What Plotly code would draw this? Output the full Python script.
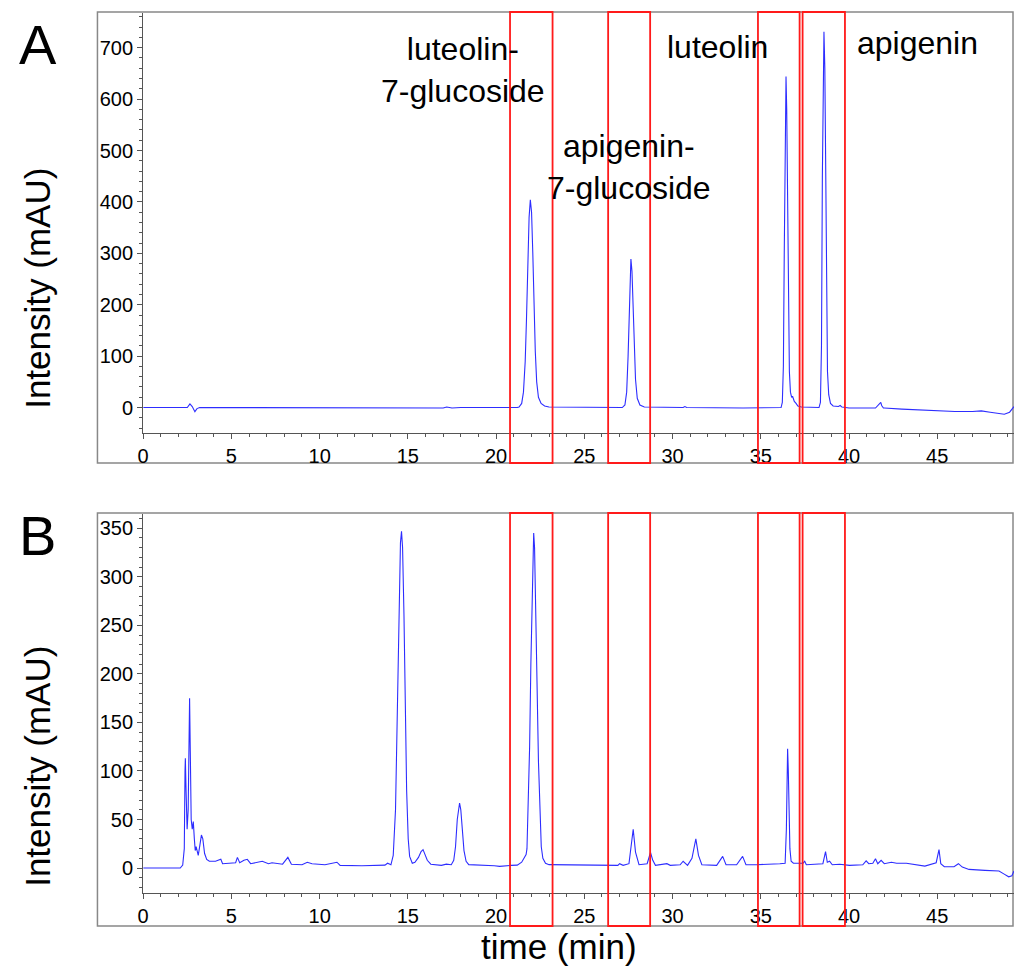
import plotly.graph_objects as go

# ---------------- data ----------------
time_a = [0, 2.5, 2.65, 2.78, 2.93, 3.05, 3.2, 8.2, 8.5, 9.5, 9.7, 10.0, 10.5, 11.7, 11.8,
          17.0, 17.2, 17.5, 18.0, 20.9, 21.2, 21.3, 21.45, 21.55, 21.65, 21.72, 21.8, 21.87,
          21.94, 22.01, 22.08, 22.15, 22.22, 22.3, 22.4, 22.55, 22.75, 23.0, 27.15, 27.3, 27.4,
          27.48, 27.55, 27.6, 27.64, 27.7, 27.76, 27.83, 27.9, 28.0, 28.15, 28.4, 30.6, 30.7,
          30.8, 34.0, 36.15, 36.22, 36.28, 36.33, 36.38, 36.43, 36.47, 36.52, 36.57, 36.62,
          36.68, 36.75, 36.8, 36.9, 37.0, 37.1, 37.3, 38.3, 38.38, 38.44, 38.49, 38.54, 38.58,
          38.63, 38.68, 38.73, 38.78, 38.85, 38.95, 39.1, 39.4, 39.5, 39.6, 40.0, 41.5, 41.8,
          41.85, 41.95, 42.0, 43.0, 44.0, 45.0, 46.0, 47.0, 47.5, 48.0, 48.5, 48.8, 49.1, 49.35]
intensity_a = [0, 0, 7, 2, -8, -2, 0, 0, -1, -1, 0, -1, -1, -1, 0,
               -1, 1, -1, 0, -1, 0, 1, 8, 30, 90, 170, 280, 370,
               404, 380, 300, 200, 110, 50, 20, 8, 3, 1, 0, 5, 30,
               100, 210, 275, 289, 265, 200, 120, 55, 18, 5, 1, 0, 2,
               0, -1, 0, 10, 80, 300, 560, 644, 580, 380, 180, 70,
               30, 20, 22, 12, 8, 3, 1, 0, 10, 120, 450, 690, 731,
               660, 430, 200, 70, 25, 8, 3, 2, 4, 1, -1, -1, 10,
               4, -1, -1, -3, -4.5, -6.5, -7.8, -7.8, -6.5, -9, -11.7, -13, -9, 2]

time_b = [0, 2.1, 2.24, 2.33, 2.37, 2.39, 2.43, 2.49, 2.55, 2.6, 2.63, 2.67, 2.72, 2.78, 2.84,
          2.9, 2.95, 3.0, 3.06, 3.12, 3.2, 3.3, 3.38, 3.48, 3.6, 3.75, 4.1, 4.4, 4.5, 5.24,
          5.34, 5.47, 5.71, 5.9, 6.09, 6.75, 7.1, 7.3, 7.9, 8.2, 8.4, 9.0, 9.3, 9.57, 10.3,
          10.98, 11.16, 12.4, 13.7, 13.85, 14.04, 14.17, 14.3, 14.4, 14.5, 14.58, 14.64, 14.7,
          14.78, 14.85, 14.93, 15.02, 15.1, 15.25, 15.4, 15.6, 15.75, 15.86, 15.98, 16.1, 16.3,
          16.9, 17.18, 17.46, 17.6, 17.7, 17.8, 17.88, 17.93, 18.0, 18.08, 18.18, 18.3, 18.45,
          19.9, 20.2, 20.85, 21.2, 21.45, 21.6, 21.7, 21.75, 21.82, 21.9, 21.97, 22.04, 22.1,
          22.13, 22.18, 22.25, 22.32, 22.4, 22.48, 22.56, 22.65, 22.8, 23.0, 26.9, 27.0, 27.2,
          27.53, 27.62, 27.77, 27.9, 28.1, 28.56, 28.75, 28.88, 29.03, 29.68, 29.87, 30.43,
          30.6, 30.85, 31.1, 31.32, 31.47, 31.66, 32.5, 32.84, 33.03, 33.63, 33.97, 34.16,
          34.76, 36.08, 36.38, 36.45, 36.49, 36.52, 36.56, 36.6, 36.65, 36.72, 36.85, 37.4,
          37.49, 37.58, 38.52, 38.67, 38.77, 38.9, 39.05, 39.47, 40.03, 40.78, 40.97, 41.12,
          41.35, 41.5, 41.63, 41.82, 42.0, 42.4, 42.7, 43.25, 43.9, 44.3, 44.94, 45.1, 45.2,
          45.4, 45.95, 46.2, 46.42, 46.8, 47.7, 48.5, 48.77, 49.05, 49.23, 49.35]
intensity_b = [0, 0, 3, 20, 100, 113, 80, 40, 60, 160, 175, 120, 50, 40, 48,
               30, 18, 22, 17, 13, 22, 34, 30, 15, 9, 7, 7, 9, 4.5, 5.5,
               11, 5.5, 8, 9, 4.5, 7, 4.5, 5.5, 4, 11, 4, 3.4, 6, 4.5, 3.4,
               6, 2.8, 2.4, 3, 5, 3.4, 13, 60, 170, 270, 335, 347, 330,
               260, 170, 80, 30, 12, 5, 6, 11, 17, 19, 14, 8, 4,
               2.8, 4, 3.4, 8, 22, 50, 64, 67, 60, 42, 18, 7, 3.5,
               2.4, 1.7, 2.8, 3, 6, 10, 14, 20, 60, 125, 210, 290, 338,
               345, 330, 275, 190, 110, 55, 22, 10, 5, 3.5, 2.8, 4.5, 2.8,
               4.5, 20, 40, 16.5, 3.4, 4.5, 16, 8, 2.8, 4.5, 2.8, 3.4,
               7, 2.8, 10, 30, 13, 3.4, 2.8, 12, 3.4, 3.4, 12, 3.4,
               3.4, 4.5, 5, 40, 110, 123, 100, 60, 20, 7, 5, 5,
               7, 3.4, 4.5, 17, 6, 7, 3.4, 4, 2.8, 3.4, 7.5, 4.5,
               5, 9.6, 4.5, 8, 4.5, 6, 5, 5, 3.4, 2, 5.5, 19, 4.5,
               1.4, 1.4, 4.5, 1, -1.4, -2.4, -3, -6, -9, -8, -3]

box_ranges = [(20.79, 23.2), (26.35, 28.73), (34.84, 37.2), (37.37, 39.77)]

xticks = [0, 5, 10, 15, 20, 25, 30, 35, 40, 45]
yticks_a = [0, 100, 200, 300, 400, 500, 600, 700]
yticks_b = [0, 50, 100, 150, 200, 250, 300, 350]

labels_a = [("luteolin-<br>7-glucoside", 460, 70),
            ("apigenin-<br>7-glucoside", 627, 167),
            ("luteolin", 716, 47),
            ("apigenin", 917, 43)]

# ---------------- figure ----------------
W, H = 1014, 966
FONT = "Arial, Liberation Sans, sans-serif"
LINE = "rgb(45,45,255)"

fig = go.Figure()
fig.add_trace(go.Scatter(x=time_a, y=intensity_a, mode="lines",
                         line=dict(color=LINE, width=1.1), xaxis="x", yaxis="y",
                         showlegend=False, hoverinfo="skip"))
fig.add_trace(go.Scatter(x=time_b, y=intensity_b, mode="lines",
                         line=dict(color=LINE, width=1.1), xaxis="x2", yaxis="y2",
                         showlegend=False, hoverinfo="skip"))

def px(v):
    return v / W

def py(v):
    return 1 - v / H

xdom = [px(138), 1.0]
xrng = [0, 49.35]
axis_common = dict(showline=True, linecolor="#555555", linewidth=1.2, ticks="outside",
                   ticklen=5, tickwidth=1, tickcolor="#555555", showgrid=False,
                   zeroline=False, tickfont=dict(family=FONT, size=20, color="black"))

fig.update_layout(
    width=W, height=H, autosize=False, margin=dict(l=0, r=0, t=0, b=0),
    paper_bgcolor="white", plot_bgcolor="white", showlegend=False,
    xaxis=dict(domain=xdom, range=xrng, anchor="y", tickvals=xticks,
               minor=dict(dtick=1, ticklen=3, ticks="outside", tickcolor="#555555"),
               **axis_common),
    yaxis=dict(domain=[py(433), py(13)], range=[-49.5, 767.5], anchor="x",
               tickvals=yticks_a,
               minor=dict(dtick=20, tick0=0, ticklen=3, ticks="outside", tickcolor="#555555"),
               **axis_common),
    xaxis2=dict(domain=xdom, range=xrng, anchor="y2", tickvals=xticks,
                minor=dict(dtick=1, ticklen=3, ticks="outside", tickcolor="#555555"),
                **axis_common),
    yaxis2=dict(domain=[py(893.3), py(514)], range=[-26, 364.7], anchor="x2",
                tickvals=yticks_b,
                minor=dict(dtick=10, tick0=0, ticklen=3, ticks="outside", tickcolor="#555555"),
                **axis_common),
)

shapes = []
# outer frames
for (top, bot) in [(12, 463), (513, 926)]:
    shapes.append(dict(type="rect", xref="paper", yref="paper", x0=px(92), x1=px(1013),
                       y0=py(bot), y1=py(top), line=dict(color="#888888", width=1.5),
                       fillcolor="rgba(0,0,0,0)", layer="below"))
# red boxes
for xr, (top, bot) in [("x", (12, 463)), ("x2", (513, 926))]:
    for (a, b) in box_ranges:
        shapes.append(dict(type="rect", xref=xr, yref="paper", x0=a, x1=b,
                           y0=py(bot), y1=py(top), line=dict(color="#ff1a1a", width=1.8),
                           fillcolor="rgba(0,0,0,0)"))
fig.update_layout(shapes=shapes)

ann = []
ann.append(dict(text="A", x=px(32), y=py(44), xref="paper", yref="paper", showarrow=False,
                xanchor="center", yanchor="middle", font=dict(family=FONT, size=56, color="black")))
ann.append(dict(text="B", x=px(32), y=py(535), xref="paper", yref="paper", showarrow=False,
                xanchor="center", yanchor="middle", font=dict(family=FONT, size=56, color="black")))
for yc in (288, 766):
    ann.append(dict(text="Intensity (mAU)", x=px(31), y=py(yc), xref="paper", yref="paper",
                    showarrow=False, textangle=-90, xanchor="center", yanchor="middle",
                    font=dict(family=FONT, size=35, color="black")))
ann.append(dict(text="time (min)", x=px(556), y=py(946), xref="paper", yref="paper",
                showarrow=False, xanchor="center", yanchor="middle",
                font=dict(family=FONT, size=35, color="black")))
for (t, xc, yc) in labels_a:
    ann.append(dict(text=t, x=px(xc), y=py(yc), xref="paper", yref="paper", showarrow=False,
                    xanchor="center", yanchor="middle", align="center",
                    font=dict(family=FONT, size=32, color="black")))
fig.update_layout(annotations=ann)

fig.write_html("out.html", config={"responsive": False, "displayModeBar": False},
               post_script="document.body.style.margin='0';"
                           "document.body.style.overflow='hidden';")
